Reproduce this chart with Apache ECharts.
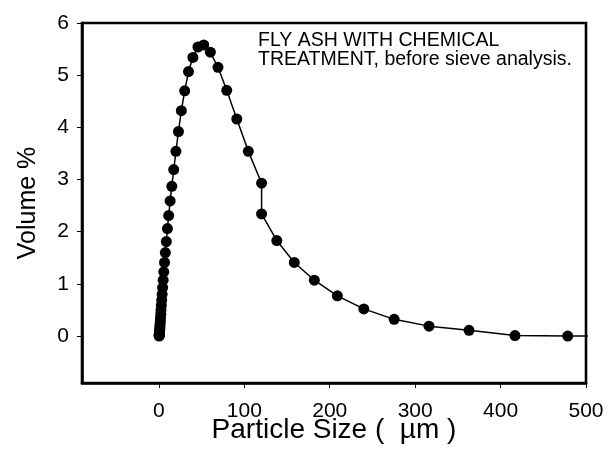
<!DOCTYPE html>
<html>
<head>
<meta charset="utf-8">
<title>Particle size distribution</title>
<script src="https://cdn.jsdelivr.net/npm/echarts@6/dist/echarts.min.js"></script>
<style>
  html, body { margin: 0; padding: 0; background: #ffffff; }
  #chart { width: 609px; height: 471px; }
</style>
</head>
<body>
<div id="chart"></div>
<script>
// Particle size bins (µm) and the volume % measured in each
var particleSize = [
  0.316, 0.363, 0.417, 0.479, 0.550, 0.631, 0.724, 0.832, 0.955, 1.096,
  1.259, 1.445, 1.660, 1.905, 2.188, 2.512, 2.884, 3.311, 3.802, 4.365,
  5.012, 5.754, 6.607, 7.586, 8.710, 10.000, 11.482, 13.183, 15.136, 17.378,
  19.953, 22.909, 26.303, 30.200, 34.674, 39.811, 45.709, 52.481, 60.256, 69.183,
  79.433, 91.201, 104.713, 120.226, 120.226, 138.038, 158.489, 181.970, 208.930, 239.883,
  275.423, 316.228, 363.078, 416.869, 478.630, 549.541
];
var volumePct = [
  0.00, 0.01, 0.02, 0.03, 0.04, 0.05, 0.07, 0.09, 0.12, 0.15,
  0.19, 0.24, 0.29, 0.35, 0.42, 0.50, 0.59, 0.69, 0.80, 0.93,
  1.07, 1.23, 1.41, 1.60, 1.81, 2.06, 2.31, 2.59, 2.87, 3.19,
  3.54, 3.92, 4.32, 4.70, 5.07, 5.34, 5.54, 5.58, 5.44, 5.15,
  4.71, 4.16, 3.54, 2.93, 2.34, 1.83, 1.41, 1.07, 0.77, 0.52,
  0.32, 0.19, 0.11, 0.01, 0.00, 0.00
];

// Tick labels on each axis
var xTicks = [0, 100, 200, 300, 400, 500];
var yTicks = [0, 1, 2, 3, 4, 5, 6];

var noteLines = ['FLY ASH WITH CHEMICAL', 'TREATMENT, before sieve analysis.'];

var FONT = "'Liberation Sans', Arial, Helvetica, sans-serif";

var points = particleSize.map(function (s, i) { return [s, volumePct[i]]; });

var chart = echarts.init(document.getElementById('chart'), null, { renderer: 'canvas' });

chart.setOption({
  animation: false,
  backgroundColor: '#ffffff',
  grid: {
    left: 82, top: 23, right: 23, bottom: 88,
    show: true,
    borderColor: '#000000',
    borderWidth: 2.6,
    backgroundColor: 'transparent'
  },
  xAxis: {
    type: 'value',
    min: -90,
    max: 500,
    name: 'Particle Size (  µm )',
    nameLocation: 'middle',
    nameGap: 33,
    nameMoveOverlap: false,
    nameTextStyle: { fontFamily: FONT, fontSize: 28, color: '#000' },
    axisLine: { show: true, onZero: false, lineStyle: { color: '#000', width: 2.6 } },
    axisTick: { show: true, inside: false, length: 5, customValues: xTicks,
                lineStyle: { color: '#000', width: 1 } },
    axisLabel: { show: true, customValues: xTicks, margin: 18,
                 fontFamily: FONT, fontSize: 21, color: '#000' },
    splitLine: { show: false }
  },
  yAxis: {
    type: 'value',
    min: -0.9,
    max: 6,
    name: 'Volume %',
    nameLocation: 'middle',
    nameGap: 41,
    nameMoveOverlap: false,
    nameRotate: 90,
    nameTextStyle: { fontFamily: FONT, fontSize: 25, color: '#000' },
    axisLine: { show: true, onZero: false, lineStyle: { color: '#000', width: 2.6 } },
    axisTick: { show: true, inside: false, length: 5, customValues: yTicks,
                lineStyle: { color: '#000', width: 1 } },
    axisLabel: { show: true, customValues: yTicks, margin: 13,
                 fontFamily: FONT, fontSize: 21, color: '#000' },
    splitLine: { show: false }
  },
  graphic: [{
    type: 'text',
    left: 258,
    top: 31,
    style: {
      text: noteLines.join('\n'),
      fontFamily: FONT,
      fontSize: 19.5,
      lineHeight: 19,
      fill: '#000'
    }
  }],
  series: [{
    type: 'line',
    data: points,
    clip: true,
    symbol: 'circle',
    symbolSize: 11,
    itemStyle: { color: '#000' },
    lineStyle: { color: '#000', width: 1.5 },
    z: 3
  }]
});
</script>
</body>
</html>
